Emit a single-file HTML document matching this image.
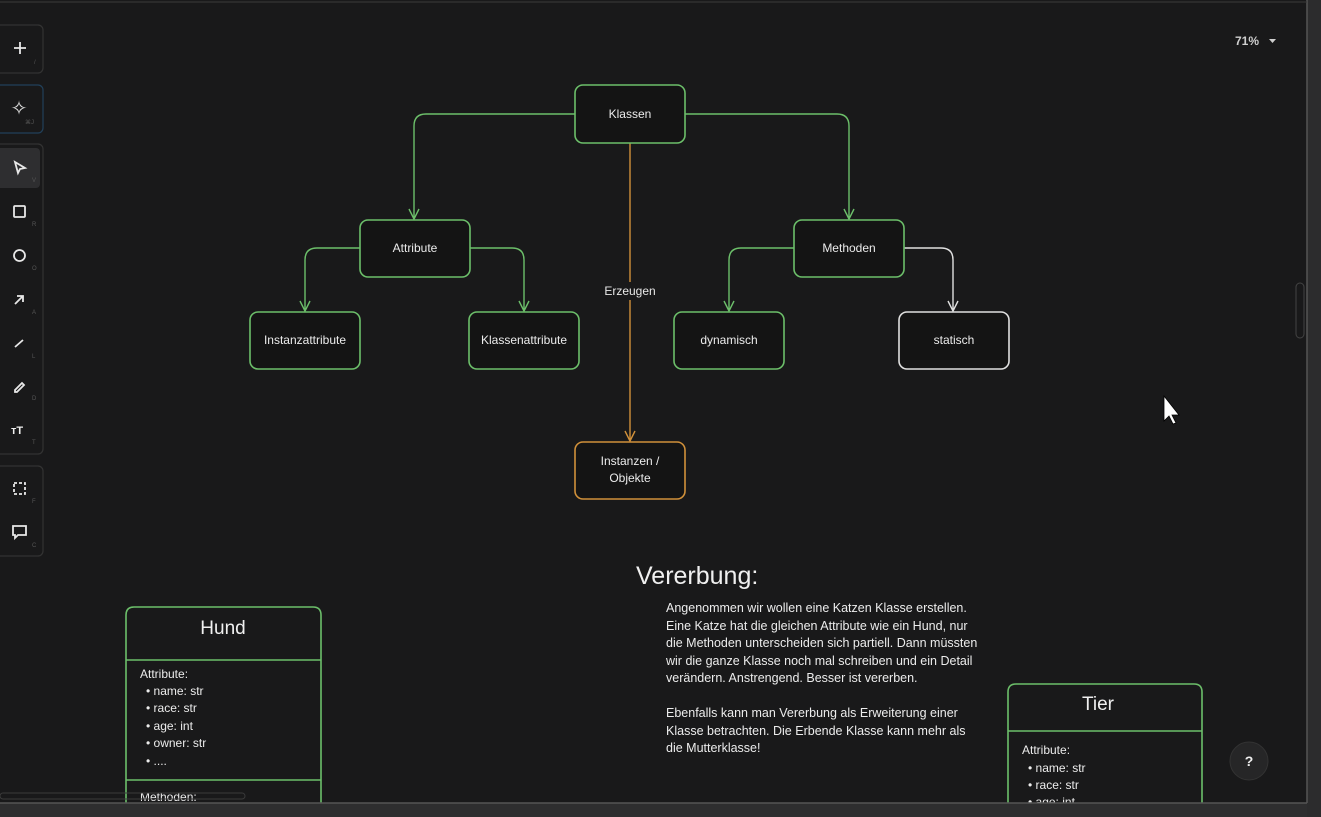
<!DOCTYPE html>
<html><head><meta charset="utf-8"><style>
html,body{margin:0;padding:0;background:#19191a;width:1321px;height:817px;overflow:hidden;font-family:"Liberation Sans",sans-serif}
</style></head><body>
<svg width="1321" height="817" viewBox="0 0 1321 817" xmlns="http://www.w3.org/2000/svg" font-family="Liberation Sans, sans-serif">
<rect width="1321" height="817" fill="#19191a"/>
<rect x="1307" y="0" width="14" height="817" fill="#2c2c2d"/>
<line x1="1307" y1="0" x2="1307" y2="803" stroke="#555" stroke-width="1.5"/>
<line x1="0" y1="2" x2="1307" y2="2" stroke="#3a3a3a" stroke-width="1"/>
<rect x="1296" y="283" width="8" height="55" rx="4" fill="none" stroke="#444"/>
<g fill="none" stroke="#333" stroke-width="1.2">
<rect x="-10" y="25" width="53" height="48" rx="5"/>
<rect x="-10" y="85" width="53" height="48" rx="5" stroke="#21405a"/>
<rect x="-10" y="144" width="53" height="310" rx="5"/>
<rect x="-10" y="466" width="53" height="90" rx="5"/>
</g>
<rect x="-5" y="148" width="45" height="40" rx="4" fill="#2e2e30"/>
<g stroke="#e8e8e8" stroke-width="1.8" fill="none">
<path d="M20 42v12M14 48h12"/>
<path d="M15 162l10 6-5 1-2 4z"/>
<rect x="14" y="206" width="11" height="11" rx="1"/>
<circle cx="19.5" cy="255.5" r="5.5"/>
<path d="M15 304l8-8M17 296h6v6"/>
<path d="M15 347l8-7"/>
<path d="M15 390l7-7 2 2-7 7h-2z"/>
<rect x="14" y="483" width="11" height="11" stroke-dasharray="3 2"/>
<path d="M13 526h13v9h-8l-3 3v-3h-2z"/>
</g>
<text x="19" y="115" fill="#ddd" font-size="20" text-anchor="middle">✧</text>
<text x="11" y="434" fill="#eee" font-size="11" font-weight="bold">тT</text>
<g fill="#555" font-size="6">
<text x="34" y="64">/</text><text x="25" y="124">⌘J</text><text x="32" y="182">V</text>
<text x="32" y="226">R</text><text x="32" y="270">O</text><text x="32" y="314">A</text>
<text x="32" y="358">L</text><text x="32" y="400">D</text><text x="32" y="444">T</text>
<text x="32" y="503">F</text><text x="32" y="547">C</text>
</g>
<text x="1235" y="45" fill="#cfcfcf" font-size="12" font-weight="bold">71%</text>
<path d="M1269 39h7l-3.5 4z" fill="#cfcfcf"/>
<g fill="none" stroke="#6cbf6a" stroke-width="1.4">
<path d="M575 114H426q-12 0-12 12V218"/>
<path d="M685 114H837q12 0 12 12V218"/>
<path d="M360 248H317q-12 0-12 12V310"/>
<path d="M470 248H512q12 0 12 12V310"/>
<path d="M794 248H741q-12 0-12 12V310"/>
<path d="M409 209l5 10 5-10M844 209l5 10 5-10M300 301l5 10 5-10M519 301l5 10 5-10M724 301l5 10 5-10"/>
</g>
<g fill="none" stroke="#e0e0e0" stroke-width="1.4">
<path d="M904 248H941q12 0 12 12V310"/>
<path d="M948 301l5 10 5-10"/>
</g>
<g fill="none" stroke="#d0903a" stroke-width="1.4">
<path d="M630 143V440"/>
<path d="M625 431l5 10 5-10"/>
</g>
<rect x="598" y="282" width="64" height="18" fill="#19191a"/>
<text x="630" y="295" fill="#e8e8e8" font-size="12" text-anchor="middle">Erzeugen</text>
<g fill="#141414" stroke-width="1.6">
<rect x="575" y="85" width="110" height="58" rx="8" stroke="#6cbf6a"/>
<rect x="360" y="220" width="110" height="57" rx="8" stroke="#6cbf6a"/>
<rect x="794" y="220" width="110" height="57" rx="8" stroke="#6cbf6a"/>
<rect x="250" y="312" width="110" height="57" rx="8" stroke="#6cbf6a"/>
<rect x="469" y="312" width="110" height="57" rx="8" stroke="#6cbf6a"/>
<rect x="674" y="312" width="110" height="57" rx="8" stroke="#6cbf6a"/>
<rect x="899" y="312" width="110" height="57" rx="8" stroke="#e0e0e0"/>
<rect x="575" y="442" width="110" height="57" rx="8" stroke="#d0903a"/>
</g>
<g fill="#ececec" font-size="12" text-anchor="middle">
<text x="630" y="118">Klassen</text>
<text x="415" y="252">Attribute</text>
<text x="849" y="252">Methoden</text>
<text x="305" y="344">Instanzattribute</text>
<text x="524" y="344">Klassenattribute</text>
<text x="729" y="344">dynamisch</text>
<text x="954" y="344">statisch</text>
<text x="630" y="465">Instanzen /</text>
<text x="630" y="482">Objekte</text>
</g>
<text x="636" y="584" fill="#f0f0f0" font-size="25">Vererbung:</text>
<g fill="#ececec" font-size="12.5">
<text x="666" y="612">Angenommen wir wollen eine Katzen Klasse erstellen.</text>
<text x="666" y="630">Eine Katze hat die gleichen Attribute wie ein Hund, nur</text>
<text x="666" y="647">die Methoden unterscheiden sich partiell. Dann müssten</text>
<text x="666" y="665">wir die ganze Klasse noch mal schreiben und ein Detail</text>
<text x="666" y="682">verändern. Anstrengend. Besser ist vererben.</text>
<text x="666" y="717">Ebenfalls kann man Vererbung als Erweiterung einer</text>
<text x="666" y="735">Klasse betrachten. Die Erbende Klasse kann mehr als</text>
<text x="666" y="752">die Mutterklasse!</text>
</g>
<g fill="none" stroke="#6cbf6a" stroke-width="1.6">
<path d="M126 803V615q0-8 8-8H313q8 0 8 8V803"/>
<path d="M126 660H321M126 780H321"/>
<path d="M1008 803V692q0-8 8-8H1194q8 0 8 8V803"/>
<path d="M1008 731H1202"/>
</g>
<text x="223" y="634" fill="#f0f0f0" font-size="19" text-anchor="middle">Hund</text>
<g fill="#ececec" font-size="12">
<text x="140" y="678">Attribute:</text>
<text x="146" y="695">• name: str</text>
<text x="146" y="712">• race: str</text>
<text x="146" y="730">• age: int</text>
<text x="146" y="747">• owner: str</text>
<text x="146" y="765">• ....</text>
<text x="140" y="801">Methoden:</text>
</g>
<rect x="0" y="793" width="245" height="6" rx="3" fill="none" stroke="#3a3a3a"/>
<text x="1098" y="710" fill="#f0f0f0" font-size="19" text-anchor="middle">Tier</text>
<g fill="#ececec" font-size="12">
<text x="1022" y="754">Attribute:</text>
<text x="1028" y="772">• name: str</text>
<text x="1028" y="789">• race: str</text>
<text x="1028" y="806">• age: int</text>
</g>
<rect x="0" y="803" width="1307" height="14" fill="#2e2e2f"/>
<line x1="0" y1="803" x2="1307" y2="803" stroke="#555" stroke-width="1.5"/>
<circle cx="1249" cy="761" r="19" fill="#262627" stroke="#333"/>
<text x="1249" y="766" fill="#eee" font-size="14" font-weight="bold" text-anchor="middle">?</text>
<path d="M1164 396v25l5-5 4 8 3-1-4-8h7z" fill="#fff" stroke="#000" stroke-width="0.8"/>
</svg>
</body></html>
